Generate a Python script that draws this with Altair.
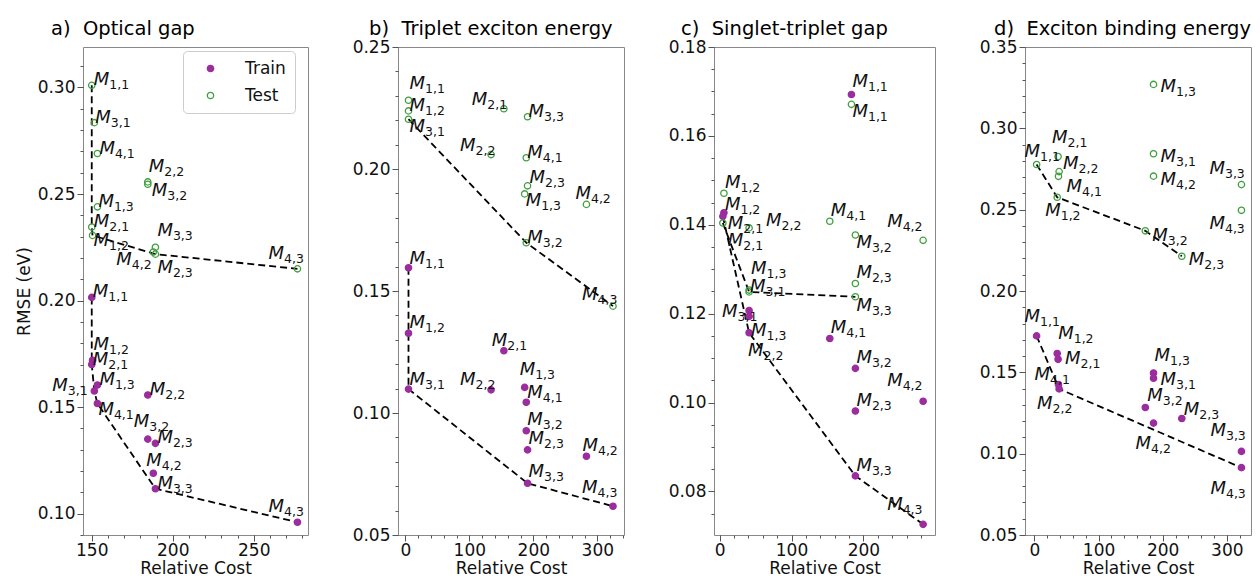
import altair as alt
import pandas as pd

# ---------------- data ----------------
models = ["1,1", "1,2", "1,3", "2,1", "2,2", "2,3", "3,1", "3,2", "3,3", "4,1", "4,2", "4,3"]
sets = ["Train", "Test"]

titles = ["a)\u00a0 Optical gap", "b)\u00a0 Triplet exciton energy",
          "c)\u00a0 Singlet-triplet gap", "d)\u00a0 Exciton binding energy"]
x_title = "Relative Cost"
y_title = "RMSE (eV)"

# a) Optical gap
cost_a = [150.0, 150.5, 153.5, 150.0, 184.6, 189.3, 151.6, 184.6, 189.3, 153.5, 188.0, 277.0]
train_a = [0.2015, 0.172, 0.1604, 0.170, 0.1557, 0.133, 0.1576, 0.135, 0.1117, 0.1517, 0.119, 0.096]
test_a = [0.301, 0.2306, 0.244, 0.2345, 0.2557, 0.2218, 0.2835, 0.2546, 0.225, 0.269, 0.2228, 0.2149]
front_train_a = ["1,1", "2,1", "3,1", "4,1", "3,3", "4,3"]
front_test_a = ["1,1", "2,1", "1,2", "2,3", "4,3"]
xticks_a = [150, 200, 250]
yticks_a = [0.10, 0.15, 0.20, 0.25, 0.30]

# b) Triplet exciton energy
cost_b = [5.0, 5.0, 186.5, 154.0, 134.0, 191.0, 5.0, 189.0, 191.0, 189.0, 283.0, 324.5]
train_b = [0.1595, 0.1327, 0.1105, 0.1255, 0.1095, 0.0849, 0.1098, 0.0927, 0.0712, 0.1044, 0.0823, 0.0618]
test_b = [0.2282, 0.2238, 0.1898, 0.2247, 0.2059, 0.1931, 0.2204, 0.1698, 0.2214, 0.2046, 0.1855, 0.1438]
front_train_b = ["1,1", "1,2", "3,1", "3,3", "4,3"]
front_test_b = ["3,1", "3,2", "4,3"]
xticks_b = [0, 100, 200, 300]
yticks_b = [0.05, 0.10, 0.15, 0.20, 0.25]

# c) Singlet-triplet gap
cost_c = [183.3, 6.0, 41.0, 4.5, 41.0, 188.8, 41.0, 188.8, 188.8, 153.2, 283.0, 283.0]
train_c = [0.1693, 0.1427, 0.1194, 0.1419, 0.1157, 0.0981, 0.1207, 0.1077, 0.0835, 0.1144, 0.1003, 0.0726]
test_c = [0.1671, 0.1471, 0.1253, 0.1404, 0.1393, 0.1268, 0.1249, 0.1377, 0.1238, 0.1408, 0.1365, None]
front_train_c = ["2,1", "2,2", "3,3", "4,3"]
front_test_c = ["2,1", "3,1", "3,3"]
xticks_c = [0, 100, 200, 300]
yticks_c = [0.08, 0.10, 0.12, 0.14, 0.16, 0.18]

# d) Exciton binding energy
cost_d = [3.4, 35.5, 185.7, 36.9, 38.5, 229.8, 185.7, 172.9, 322.8, 37.5, 185.7, 322.8]
train_d = [0.1724, 0.1616, 0.1496, 0.158, 0.1398, 0.1216, 0.1464, 0.1284, 0.1014, 0.1425, 0.1188, 0.0914]
test_d = [0.2778, 0.2576, 0.327, 0.2827, 0.2734, 0.2214, 0.2844, 0.237, 0.2654, 0.2705, 0.2706, 0.2496]
front_train_d = ["1,1", "2,2", "4,3"]
front_test_d = ["1,1", "1,2", "3,2", "2,3"]
xticks_d = [0, 100, 200, 300]
yticks_d = [0.05, 0.10, 0.15, 0.20, 0.25, 0.30, 0.35]

# ---------------- styles / layout ----------------
PURPLE = "#9b2d9f"
GREEN = "#3f9f3f"
FONT = "DejaVu Sans"

# label offsets in pixels (left/baseline of the label relative to its point)
off_train_a = {"1,1": (1, 0), "1,2": (1, -10), "1,3": (2, 0), "2,1": (1, 0), "2,2": (2, 0), "2,3": (2, 0),
               "3,1": (-42, 0), "3,2": (-14, -12), "3,3": (2, 0), "4,1": (1, 11), "4,2": (-7, -7), "4,3": (-29, -10)}
off_test_a = {"1,1": (2, 0), "1,2": (1, 11), "1,3": (1, 0), "2,1": (2, 0), "2,2": (1, -10), "2,3": (2, 19),
              "3,1": (1, 0), "3,2": (4, 12), "3,3": (2, -11), "4,1": (2, 0), "4,2": (-37, 13), "4,3": (-29, -10)}
off_train_b = {"1,1": (1, -4), "1,2": (1, -5), "1,3": (-5, -12), "2,1": (-12, -5), "2,2": (-31, -5), "2,3": (1, -6),
               "3,1": (1, -4), "3,2": (1, -6), "3,3": (1, -6), "4,1": (1, -4), "4,2": (-4, -5), "4,3": (-31, -13)}
off_test_b = {"1,1": (1, -11), "1,2": (1, 0), "1,3": (1, 12), "2,1": (-32, -4), "2,2": (-31, -4), "2,3": (2, -3),
              "3,1": (1, 13), "3,2": (1, 0), "3,3": (1, 0), "4,1": (1, 0), "4,2": (-11, -5), "4,3": (-31, -6)}
off_train_c = {"1,1": (1, -8), "1,2": (1, -3), "1,3": (2, 20), "2,1": (5, 13), "2,2": (-1, 23), "2,3": (1, -5),
               "3,1": (-27, 6), "3,2": (1, -5), "3,3": (1, -5), "4,1": (1, -6), "4,2": (-36, -15), "4,3": (-36, -14)}
off_test_c = {"1,1": (1, 13), "1,2": (1, -5), "1,3": (2, -16), "2,1": (5, 23), "2,2": (17, -2), "2,3": (1, -5),
              "3,1": (1, 0), "3,2": (1, 13), "3,3": (1, 14), "4,1": (1, -5), "4,2": (-36, -13), "4,3": (0, 0)}
off_train_d = {"1,1": (-12, -14), "1,2": (1, -14), "1,3": (1, -12), "2,1": (7, 5), "2,2": (-22, 20), "2,3": (2, -4),
               "3,1": (7, 7), "3,2": (2, -6), "3,3": (-31, -15), "4,1": (-24, -5), "4,2": (-18, 26), "4,3": (-31, 26)}
off_test_d = {"1,1": (-12, -7), "1,2": (-12, 19), "1,3": (7, 8), "2,1": (-6, -13), "2,2": (4, -3), "2,3": (7, 9),
              "3,1": (7, 8), "3,2": (7, 10), "3,3": (-32, -11), "4,1": (8, 16), "4,2": (7, 9), "4,3": (-32, 19)}

H = 488
SUB_DX = 15.5
SUB_DY = 4
AXIS_FS = 17
TITLE_FS = 19.5


def minor_values(lo, hi, step):
    vals = []
    k = int(lo / step) - 1
    while k * step <= hi + 1e-12:
        v = round(k * step, 6)
        if lo <= v <= hi:
            vals.append(v)
        k += 1
    return vals


def panel(title, cost, train, test, ftrain, ftest, otrain, otest,
          xdom, ydom, xticks, yticks, xstep, ystep, width, title_dx, title_off,
          show_ytitle=False, show_legend=False):
    rows = []
    for s, vals, offs in (("Train", train, otrain), ("Test", test, otest)):
        for m, c, r in zip(models, cost, vals):
            if r is None:
                continue
            rows.append(dict(model=m, set=s, cost=c, rmse=r, ox=offs[m][0], oy=offs[m][1]))
    pts = pd.DataFrame(rows)

    frows = []
    for s, front, vals in (("Train", ftrain, train), ("Test", ftest, test)):
        for i, m in enumerate(front):
            k = models.index(m)
            frows.append(dict(set=s, order=i, cost=cost[k], rmse=vals[k]))
    fr = pd.DataFrame(frows)

    xs = alt.Scale(domain=xdom, nice=False, zero=False)
    ys = alt.Scale(domain=ydom, nice=False, zero=False)

    ax_x = alt.Axis(values=xticks, format="d", title=x_title, tickSize=6, labelPadding=1,
                    titlePadding=2, grid=False, domain=False)
    ax_y = alt.Axis(values=yticks, format=".2f", title=(y_title if show_ytitle else None), tickSize=6,
                    labelPadding=2, titlePadding=4, grid=False, domain=False)
    mx = alt.Axis(values=minor_values(xdom[0], xdom[1], xstep), labels=False, tickSize=3, title=None,
                  grid=False, domain=False, orient="bottom")
    my = alt.Axis(values=minor_values(ydom[0], ydom[1], ystep), labels=False, tickSize=3, title=None,
                  grid=False, domain=False, orient="left")

    lines = alt.Chart(fr).mark_line(color="black", strokeDash=[7, 4], strokeWidth=1.8).encode(
        x=alt.X("cost:Q", scale=xs, axis=ax_x),
        y=alt.Y("rmse:Q", scale=ys, axis=ax_y),
        detail="set:N",
        order="order:Q",
    )

    if show_legend:
        leg = alt.Legend(title=None, orient="none", legendX=100, legendY=4, fillColor="white",
                         strokeColor="#cccccc", cornerRadius=4, padding=9, labelFontSize=AXIS_FS,
                         labelFont=FONT, labelColor="#111", symbolSize=40, symbolStrokeWidth=1.3,
                         symbolOffset=10, labelOffset=26, rowPadding=9, symbolType="circle")
    else:
        leg = None
    fill_scale = alt.Scale(domain=sets, range=[PURPLE, "rgba(0,0,0,0)"])
    stroke_scale = alt.Scale(domain=sets, range=[PURPLE, GREEN])

    points = alt.Chart(pts).mark_point(shape="circle", size=40, strokeWidth=1.3, opacity=1).encode(
        x=alt.X("cost:Q", scale=xs, axis=mx),
        y=alt.Y("rmse:Q", scale=ys, axis=my),
        fill=alt.Fill("set:N", scale=fill_scale, legend=leg),
        stroke=alt.Stroke("set:N", scale=stroke_scale, legend=leg),
    )

    layers = [lines, points]
    for (ox, oy), sub in pts.groupby(["ox", "oy"]):
        enc = dict(x=alt.X("cost:Q", scale=xs, axis=None), y=alt.Y("rmse:Q", scale=ys, axis=None))
        sub = sub.reset_index(drop=True)
        layers.append(alt.Chart(sub).mark_text(
            text="M", font=FONT, fontStyle="italic", fontSize=18, align="left", baseline="alphabetic",
            color="#111", dx=float(ox), dy=float(oy)).encode(**enc))
        layers.append(alt.Chart(sub).mark_text(
            font=FONT, fontSize=12.5, align="left", baseline="alphabetic", color="#111",
            dx=float(ox) + SUB_DX, dy=float(oy) + SUB_DY).encode(text="model:N", **enc))

    return alt.layer(*layers).resolve_axis(
        x="independent", y="independent"
    ).properties(
        width=width, height=H,
        title=alt.TitleParams(title, anchor="start", frame="group", dx=title_dx, fontSize=TITLE_FS,
                              font=FONT, fontWeight="normal", color="black", offset=title_off),
    )


pa = panel(titles[0], cost_a, train_a, test_a, front_train_a, front_test_a, off_train_a, off_test_a,
           [144.6, 283.5], [0.0900, 0.319], xticks_a, yticks_a, 10, 0.01, 225, -32, 8,
           show_ytitle=True, show_legend=True)
pb = panel(titles[1], cost_b, train_b, test_b, front_train_b, front_test_b, off_train_b, off_test_b,
           [-11.4, 341.7], [0.05, 0.25], xticks_b, yticks_b, 20, 0.01, 226, -29, -1)
pc = panel(titles[2], cost_c, train_c, test_c, front_train_c, front_test_c, off_train_c, off_test_c,
           [-7.8, 299.5], [0.0702, 0.18], xticks_c, yticks_c, 20, 0.005, 221, -33, -1)
pd_ = panel(titles[3], cost_d, train_d, test_d, front_train_d, front_test_d, off_train_d, off_test_d,
            [-14.7, 337.7], [0.05, 0.35], xticks_d, yticks_d, 20, 0.01, 226, -31, -1)

chart = alt.hconcat(pa, pb, pc, pd_, spacing=90, bounds="flush").properties(
    padding={"left": 6, "top": 10, "right": 0, "bottom": 0}
).configure(
    font=FONT
).configure_view(
    stroke="#888888", strokeWidth=1
).configure_axis(
    labelFont=FONT, labelFontSize=AXIS_FS, labelColor="#111", titleFont=FONT, titleFontSize=AXIS_FS,
    titleFontWeight="normal", titleColor="#111", tickColor="#555555"
)

chart.save("out.html", embed_options={"renderer": "svg", "actions": False})
